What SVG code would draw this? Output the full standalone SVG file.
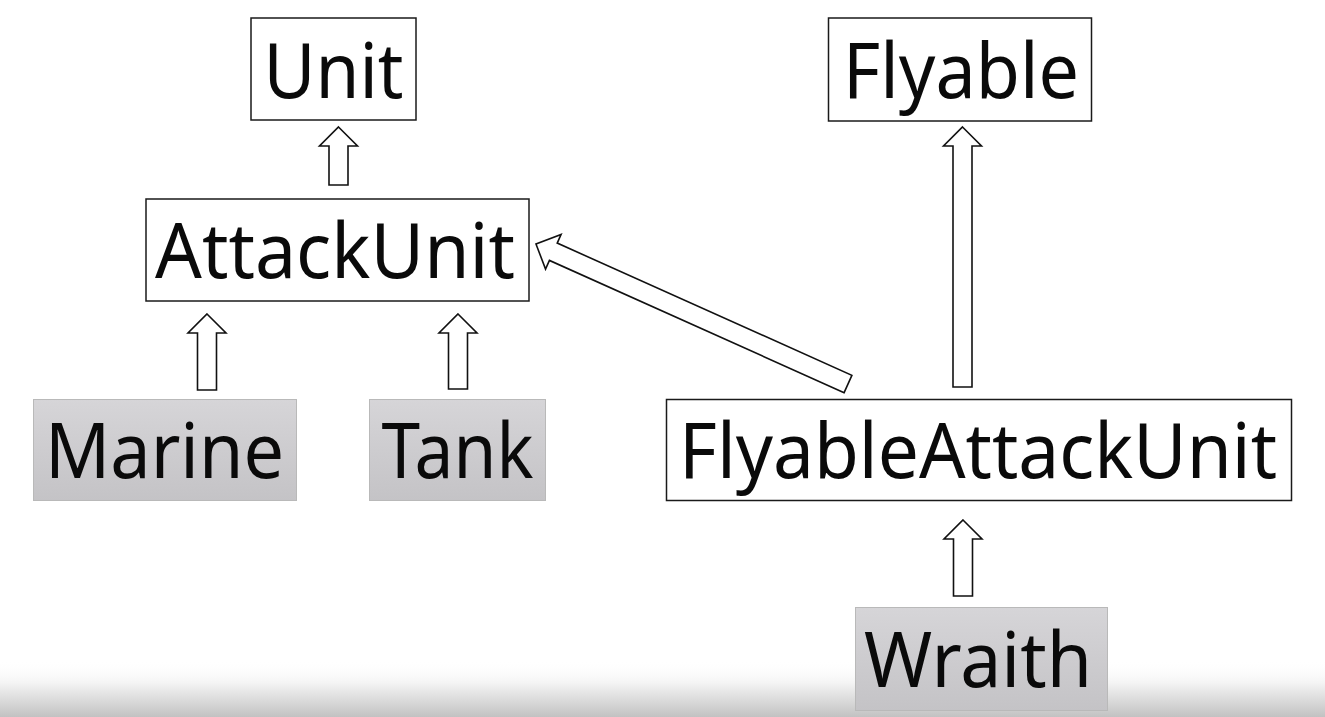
<svg xmlns="http://www.w3.org/2000/svg" width="1325" height="717" viewBox="0 0 1325 717">
  <defs>
    <linearGradient id="grayFill" x1="0" y1="0" x2="0" y2="1">
      <stop offset="0" stop-color="#d6d5d8"/>
      <stop offset="1" stop-color="#c4c3c6"/>
    </linearGradient>
    <linearGradient id="bottomShade" x1="0" y1="0" x2="0" y2="1">
      <stop offset="0" stop-color="#ffffff" stop-opacity="0"/>
      <stop offset="0.4" stop-color="#f4f4f4" stop-opacity="1"/>
      <stop offset="1" stop-color="#c2c2c2" stop-opacity="1"/>
    </linearGradient>
    <style>
      .box { fill: #ffffff; stroke: #1a1a1a; stroke-width: 1.5; }
      .gbox { fill: url(#grayFill); stroke: #b9b9b9; stroke-width: 1; }
      .lbl { font-family: "Noto Sans", "Open Sans", "DejaVu Sans", sans-serif; font-size: 77px; fill: #0a0a0a; text-anchor: middle; }
      .arrow { fill: #ffffff; stroke: #111111; stroke-width: 1.6; stroke-linejoin: miter; }
    </style>
  </defs>
  <rect x="0" y="0" width="1325" height="717" fill="#ffffff"/>
  <rect x="0" y="660" width="1325" height="57" fill="url(#bottomShade)"/>

  <g id="connectors">
    <!-- AttackUnit -> Unit -->
    <polygon class="arrow" points="338.5,127 357.5,146 348,146 348,185 329,185 329,146 319.5,146"/>
    <!-- Flyable <- FlyableAttackUnit -->
    <polygon class="arrow" points="962.5,127 981.5,146 972,146 972,387 953,387 953,146 943.5,146"/>
    <!-- Marine -> AttackUnit -->
    <polygon class="arrow" points="207,314 226,333 216.5,333 216.5,390 197.5,390 197.5,333 188,333"/>
    <!-- Tank -> AttackUnit -->
    <polygon class="arrow" points="458,314 477,333 467.5,333 467.5,389 448.5,389 448.5,333 439,333"/>
    <!-- Wraith -> FlyableAttackUnit -->
    <polygon class="arrow" points="963,520 982,539 972.5,539 972.5,596 953.5,596 953.5,539 944,539"/>
    <!-- FlyableAttackUnit -> AttackUnit (diagonal) -->
    <g transform="translate(848,384) rotate(204.17)">
      <polygon class="arrow" points="0,-9.5 323,-9.5 323,-19 342,0 323,19 323,9.5 0,9.5"/>
    </g>
  </g>

  <g id="node-unit">
    <rect class="box" x="251" y="18" width="165" height="102"/>
    <text class="lbl" x="333.5" y="98" textLength="140" lengthAdjust="spacingAndGlyphs">Unit</text>
  </g>
  <g id="node-flyable">
    <rect class="box" x="828.5" y="18" width="263" height="103"/>
    <text class="lbl" x="961" y="98" textLength="236" lengthAdjust="spacingAndGlyphs">Flyable</text>
  </g>
  <g id="node-attackunit">
    <rect class="box" x="146" y="199" width="383" height="102"/>
    <text class="lbl" x="335" y="278" textLength="360" lengthAdjust="spacingAndGlyphs">AttackUnit</text>
  </g>
  <g id="node-marine">
    <rect class="gbox" x="33.5" y="399.5" width="263" height="101"/>
    <text class="lbl" x="164.5" y="478" textLength="239" lengthAdjust="spacingAndGlyphs">Marine</text>
  </g>
  <g id="node-tank">
    <rect class="gbox" x="369.5" y="399.5" width="176" height="101"/>
    <text class="lbl" x="457.5" y="478" textLength="152" lengthAdjust="spacingAndGlyphs">Tank</text>
  </g>
  <g id="node-flyableattackunit">
    <rect class="box" x="666.5" y="399.5" width="625" height="101"/>
    <text class="lbl" x="978" y="478" textLength="598" lengthAdjust="spacingAndGlyphs">FlyableAttackUnit</text>
  </g>
  <g id="node-wraith">
    <rect class="gbox" x="855.5" y="607.5" width="252" height="103"/>
    <text class="lbl" x="978" y="687" textLength="228" lengthAdjust="spacingAndGlyphs">Wraith</text>
  </g>
</svg>
